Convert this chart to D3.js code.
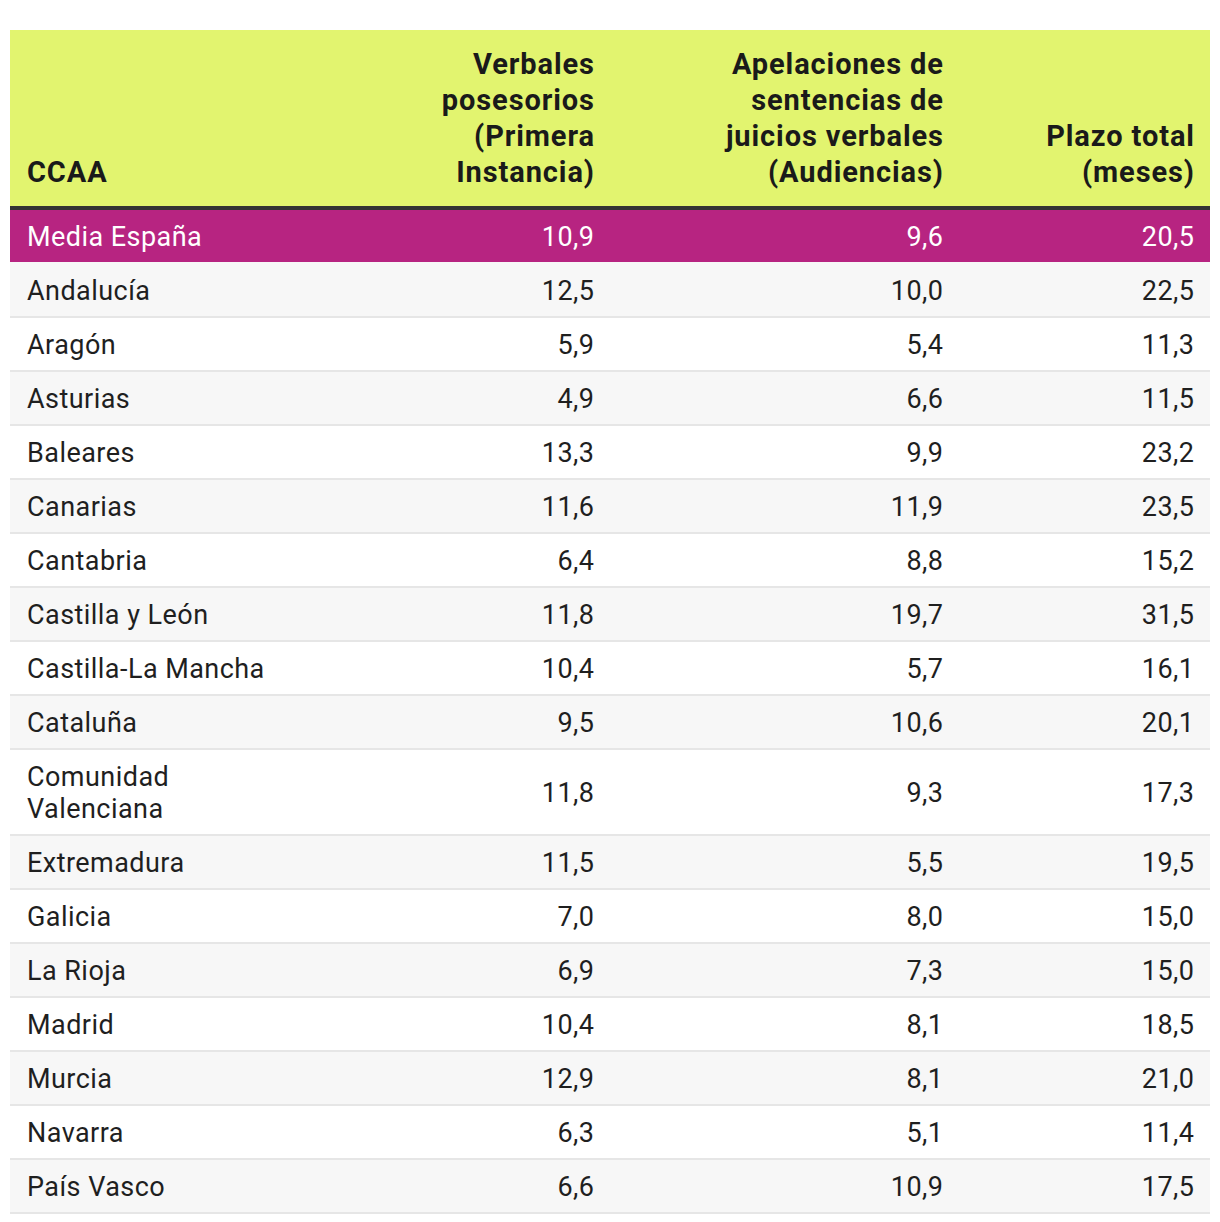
<!DOCTYPE html>
<html>
<head>
<meta charset="utf-8">
<script src="https://cdn.jsdelivr.net/npm/d3@7"></script>
<style>
  body { margin: 0; background: #fff; }
  text { font-family: Roboto, "Noto Sans", sans-serif; }
</style>
</head>
<body>
<div id="chart-container"></div>
<script>
// Table data
const regions = ["Media España", "Andalucía", "Aragón", "Asturias", "Baleares", "Canarias",
  "Cantabria", "Castilla y León", "Castilla-La Mancha", "Cataluña", "Comunidad Valenciana",
  "Extremadura", "Galicia", "La Rioja", "Madrid", "Murcia", "Navarra", "País Vasco"];
const primeraInstancia = [10.9, 12.5, 5.9, 4.9, 13.3, 11.6, 6.4, 11.8, 10.4, 9.5, 11.8, 11.5, 7.0, 6.9, 10.4, 12.9, 6.3, 6.6];
const apelaciones = [9.6, 10.0, 5.4, 6.6, 9.9, 11.9, 8.8, 19.7, 5.7, 10.6, 9.3, 5.5, 8.0, 7.3, 8.1, 8.1, 5.1, 10.9];
const plazoTotal = [20.5, 22.5, 11.3, 11.5, 23.2, 23.5, 15.2, 31.5, 16.1, 20.1, 17.3, 19.5, 15.0, 15.0, 18.5, 21.0, 11.4, 17.5];
const columns = ["CCAA", "primera", "apelaciones", "total"];
const headerLines = [
  ["CCAA"],
  ["Verbales", "posesorios", "(Primera", "Instancia)"],
  ["Apelaciones de", "sentencias de", "juicios verbales", "(Audiencias)"],
  ["Plazo total", "(meses)"]
];

const W = 1220, H = 1222;
const left = 10, right = 1210;
const headerTop = 30, headerBottom = 206, borderH = 4;
const rowBody = 52, sepH = 2, lineH = 32;
const headLS = 0.9, bodyLS = 0.45;

const svg = d3.select("#chart-container").append("svg")
  .attr("width", W).attr("height", H);

// column anchor positions (left for the name, right for numbers)
const colX = d3.scaleOrdinal().domain(columns).range([27, 594, 943, 1194]);
const colAnchor = c => c === "CCAA" ? "start" : "end";

// wrap long names onto two lines like the original
const nameLines = name => name === "Comunidad Valenciana" ? ["Comunidad", "Valenciana"] : [name];

const rows = regions.map((r, i) => ({
  name: r, lines: nameLines(r),
  vals: [primeraInstancia[i], apelaciones[i], plazoTotal[i]]
}));
let y0 = headerBottom + borderH;
rows.forEach(d => {
  d.top = y0;
  d.h = rowBody + (d.lines.length - 1) * lineH;
  y0 += d.h + sepH;
});

const fmt = v => d3.format(".1f")(v).replace(".", ",");

// header
svg.append("rect").attr("x", left).attr("y", headerTop)
  .attr("width", right - left).attr("height", headerBottom - headerTop)
  .attr("fill", "#e2f46f");
svg.append("rect").attr("x", left).attr("y", headerBottom)
  .attr("width", right - left).attr("height", borderH)
  .attr("fill", "#333333");

const head = svg.selectAll(".head").data(columns).enter().append("text")
  .attr("class", "head")
  .attr("text-anchor", colAnchor)
  .attr("font-size", 29).attr("font-weight", 700).attr("fill", "#1a1a1a")
  .attr("letter-spacing", headLS);
head.each(function(c, ci) {
  const lines = headerLines[ci];
  d3.select(this).selectAll("tspan").data(lines).enter().append("tspan")
    .attr("x", colX(c) + (c === "CCAA" ? 0 : headLS))
    .attr("y", (l, li) => 182 - (lines.length - 1 - li) * 36)
    .text(l => l);
});

// rows
const g = svg.selectAll(".row").data(rows).enter().append("g")
  .attr("class", "row")
  .attr("transform", d => "translate(0," + d.top + ")");

g.append("rect").attr("x", left).attr("width", right - left)
  .attr("height", d => d.h)
  .attr("fill", (d, i) => i === 0 ? "#b72481" : (i % 2 ? "#f7f7f7" : "#ffffff"));
g.append("rect").attr("x", left).attr("width", right - left)
  .attr("y", d => d.h).attr("height", sepH)
  .attr("fill", (d, i) => i === 0 ? "#f7f7f7" : "#e6e6e6");

const textColor = (d, i) => i === 0 ? "#ffffff" : "#1f1f1f";

g.append("text")
  .attr("font-size", 27).attr("fill", textColor)
  .attr("letter-spacing", bodyLS)
  .each(function(d) {
    d3.select(this).selectAll("tspan").data(d.lines).enter().append("tspan")
      .attr("x", colX("CCAA"))
      .attr("y", (l, li) => d.h / 2 + 9.5 - (d.lines.length - 1) * lineH / 2 + li * lineH)
      .text(l => l);
  });

columns.slice(1).forEach((c, ci) => {
  g.append("text")
    .attr("x", colX(c) + bodyLS)
    .attr("y", d => d.h / 2 + 9.5)
    .attr("text-anchor", "end")
    .attr("font-size", 27).attr("fill", textColor)
    .attr("letter-spacing", bodyLS)
    .text(d => fmt(d.vals[ci]));
});
</script>
</body>
</html>
